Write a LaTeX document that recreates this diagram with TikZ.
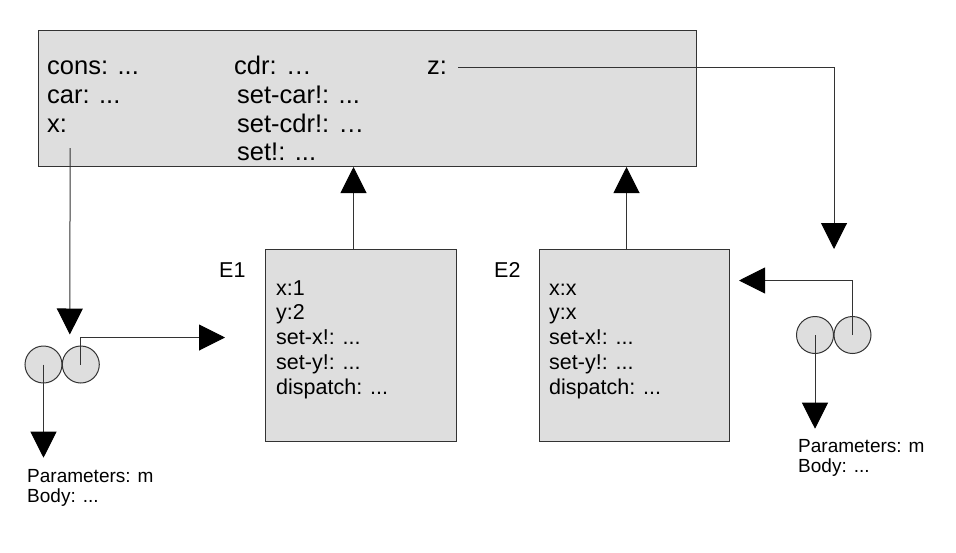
\documentclass[tikz,border=0pt]{standalone}
\usepackage{fontspec}
\setmainfont{Liberation Sans}
\usetikzlibrary{arrows.meta}
\newcommand\dts{...}

\begin{document}
\begin{tikzpicture}[x=1pt, y=-1pt,
  envbox/.style={draw=black!80, fill=black!13, line width=1pt, inner sep=0pt, anchor=north west},
  txt/.style={anchor=base west, inner sep=0pt},
  big/.style={txt, font=\fontsize{25.5}{29}\selectfont},
  mid/.style={txt, font=\fontsize{21.5}{25}\selectfont},
  small/.style={txt, font=\fontsize{19}{20}\selectfont},
  ball/.style={circle, draw=black!80, fill=black!13, line width=1pt, minimum size=37pt, inner sep=0pt},
  ptr/.style={draw=black!80, line width=1pt, -{Triangle[length=26pt, width=26pt, color=black]}}
]
\useasboundingbox (0,0) rectangle (956,552);

% global frame
\node[envbox, minimum width=658pt, minimum height=136pt] (global) at (38,30) {};
\node[big] (cons) at (47,74) {cons: ...};
\node[big] (car) at (47,103) {car: ...};
\node[big] (xvar) at (47,132) {x:};
\node[big] (cdr) at (234,74) {cdr: …};
\node[big] (setcar) at (237,103) {set-car!: ...};
\node[big] (setcdr) at (237,132) {set-cdr!: …};
\node[big] (setv) at (237,160) {set!: ...};
\node[big] (zvar) at (427,74) {z:};

% frames E1 and E2
\node[envbox, minimum width=191pt, minimum height=192pt] (E1) at (265,249) {};
\node[envbox, minimum width=190pt, minimum height=192pt] (E2) at (539,249) {};
\node[mid] (E1lab) at (219,277) {E1};
\node[mid] (E2lab) at (494,277) {E2};
\foreach \t [count=\i] in {x:1, y:2, set-x!: \dts, set-y!: \dts, dispatch: \dts}
{
  \node[mid] (e1-\i) at (276,270.25+24.75*\i) {\t};
}
\foreach \t [count=\i] in {x:x, y:x, set-x!: \dts, set-y!: \dts, dispatch: \dts}
{
  \node[mid] (e2-\i) at (549,270.25+24.75*\i) {\t};
}

% procedure objects
\node[ball] (lp1) at (43.5,364.5) {};
\node[ball] (lp2) at (80.8,364.5) {};
\node[ball] (rp1) at (815,335) {};
\node[ball] (rp2) at (852.5,335) {};
\node[small] (lparams) at (27,482) {Parameters: m};
\node[small] (lbody) at (27,502) {Body: ...};
\node[small] (rparams) at (798,452) {Parameters: m};
\node[small] (rbody) at (798,472) {Body: ...};

% pointers
\draw[ptr, shorten >=11pt] ([shift={(13pt,-16pt)}]xvar.south) -- ([xshift=-11pt]lp2.north);
\draw[ptr] (lp2.center) |- ([shift={(-40pt,8pt)}]E1.west);
\draw[ptr, shorten >=11pt] (lp1.center) -- (lp1.center |- lparams.north);
\draw[ptr] ([xshift=-7.5pt]E1.north) coordinate (e1up) -- (e1up |- global.south);
\draw[ptr] ([xshift=-8pt]E2.north) coordinate (e2up) -- (e2up |- global.south);
\draw[ptr] ([xshift=11pt]zvar.east) -| (rp1.east |- E2.north);
\draw[ptr] (rp2.center) |- ([shift={(9pt,65pt)}]E2.east);
\draw[ptr, shorten >=10pt] (rp1.center) -- (rp1.center |- rparams.north);
\end{tikzpicture}
\end{document}
